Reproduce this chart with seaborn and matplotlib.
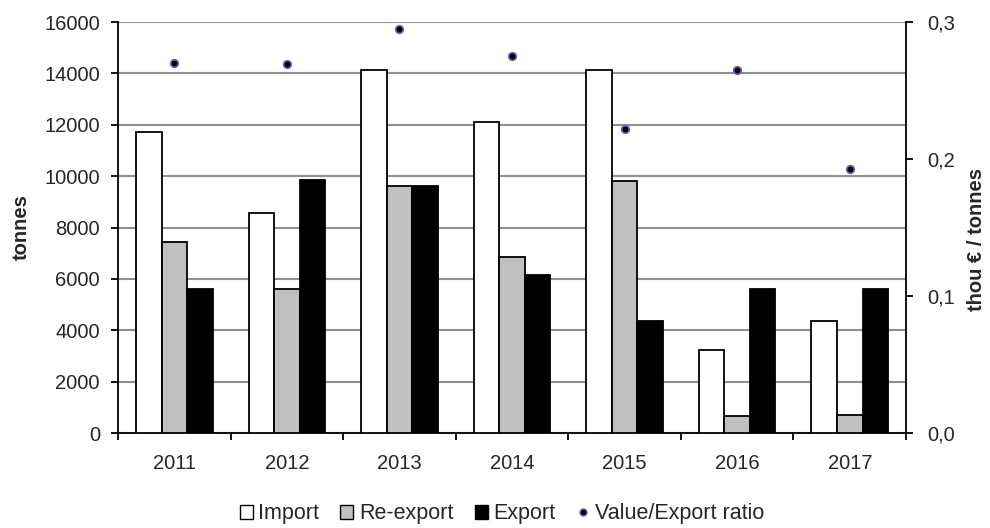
import matplotlib
matplotlib.use("Agg")
import matplotlib.pyplot as plt
import matplotlib.patches as mpatches
from matplotlib.lines import Line2D
from matplotlib.ticker import FuncFormatter, MultipleLocator, FixedLocator
import seaborn as sns
import pandas as pd

years = ["2011", "2012", "2013", "2014", "2015", "2016", "2017"]
import_t = [11700, 8550, 14150, 12100, 14150, 3250, 4350]
reexport_t = [7450, 5600, 9600, 6850, 9800, 650, 700]
export_t = [5600, 9850, 9600, 6150, 4350, 5600, 5600]
ratio = [0.270, 0.269, 0.295, 0.275, 0.222, 0.265, 0.193]

series = ["Import", "Re-export", "Export"]
colors = ["white", "#c0c0c0", "black"]

sns.set_style("white")
plt.rcParams["font.family"] = ["Liberation Sans", "DejaVu Sans"]
FS = 14.5

df = pd.DataFrame({
    "year": years * 3,
    "tonnes": import_t + reexport_t + export_t,
    "series": ["Import"] * 7 + ["Re-export"] * 7 + ["Export"] * 7,
})
df_ratio = pd.DataFrame({"year": years, "ratio": ratio})

fig = plt.figure(figsize=(9.9, 5.28), dpi=100)
ax = fig.add_axes([0.1192, 0.1799, 0.7960, 0.7784])

sns.barplot(data=df, x="year", y="tonnes", hue="series", hue_order=series,
            palette=colors, edgecolor="black", linewidth=1.3, width=0.68,
            errorbar=None, legend=False, ax=ax, zorder=3)

ax.set_ylim(0, 16000)
ax.set_xlim(-0.5, 6.5)
ax.yaxis.set_major_locator(MultipleLocator(2000))
ax.grid(axis="y", color="#909090", linewidth=1.5, zorder=0)
ax.set_axisbelow(True)
ax.set_xlabel("")
ax.set_ylabel("tonnes", fontsize=FS, fontweight="bold", labelpad=10)
ax.tick_params(axis="y", direction="out", length=5, width=1.3, left=True,
               labelsize=FS, color="black", pad=8)
ax.tick_params(axis="x", which="major", length=0, labelsize=FS, pad=15)
ax.xaxis.set_minor_locator(FixedLocator([i - 0.5 for i in range(8)]))
ax.tick_params(axis="x", which="minor", direction="out", length=5, width=1.3,
               bottom=True, color="black")
for s in ["top", "right"]:
    ax.spines[s].set_visible(False)
for s in ["left", "bottom"]:
    ax.spines[s].set_color("black")
    ax.spines[s].set_linewidth(1.3)

ax2 = ax.twinx()
sns.scatterplot(data=df_ratio, x="year", y="ratio", color="black",
                edgecolor="#7b5ea7", linewidth=1.2, s=30, ax=ax2, zorder=5)
ax2.set_ylim(0, 0.3)
ax2.set_xlim(-0.5, 6.5)
ax2.yaxis.set_major_locator(MultipleLocator(0.1))
ax2.yaxis.set_major_formatter(FuncFormatter(lambda v, p: f"{v:.1f}".replace(".", ",")))
ax2.set_ylabel("thou € / tonnes", fontsize=FS, fontweight="bold")
ax2.yaxis.set_label_coords(1.077, 0.47)
ax2.tick_params(axis="y", direction="out", length=5, width=1.3, right=True,
                labelsize=FS, color="black", pad=10)
for s in ["top", "left", "bottom"]:
    ax2.spines[s].set_visible(False)
ax2.spines["right"].set_color("black")
ax2.spines["right"].set_linewidth(1.3)

handles = [mpatches.Patch(facecolor=c, edgecolor="black", linewidth=1.0, label=l)
           for c, l in zip(colors, series)]
handles.append(Line2D([], [], marker="o", linestyle="none", markersize=5,
                      markerfacecolor="black", markeredgecolor="#7b5ea7",
                      label="Value/Export ratio"))
fig.legend(handles=handles, loc="lower center", bbox_to_anchor=(0.507, -0.03),
           ncol=4, frameon=False, fontsize=15.5, handlelength=0.6,
           handleheight=0.6, handletextpad=0.25, columnspacing=1.0)

fig.savefig("out.png", dpi=100)
